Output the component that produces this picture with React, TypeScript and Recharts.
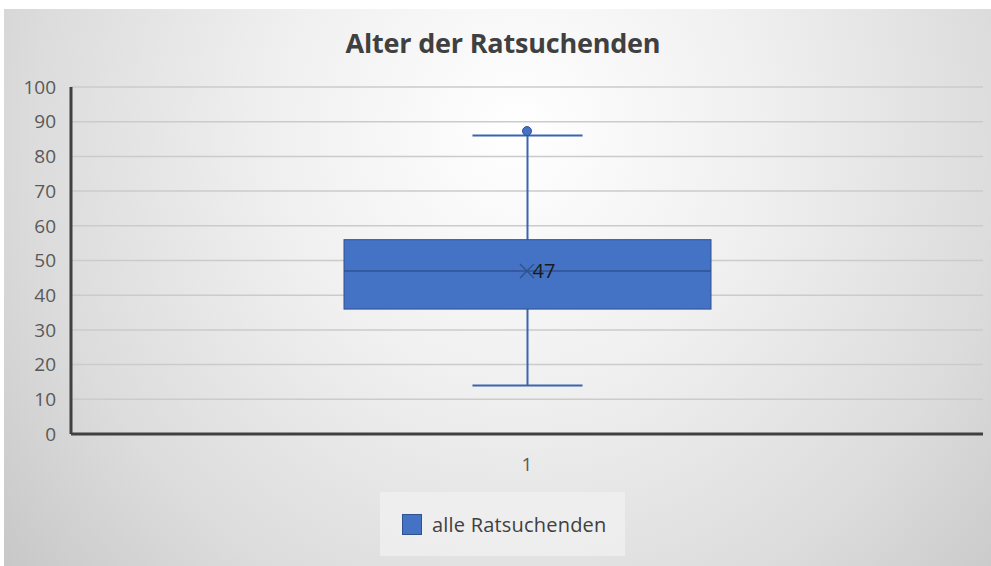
import React from "react";
import { Bar, CartesianGrid, ComposedChart, LabelList, Legend, Scatter, XAxis, YAxis } from "recharts";

const categories = ["1"];
const seriesName = "alle Ratsuchenden";
const whiskerLow = [14];
const quartile1 = [36];
const medians = [47];
const quartile3 = [56];
const whiskerHigh = [86];
const means = [47];
const outliers = [87.3];
const yTicks = [0, 10, 20, 30, 40, 50, 60, 70, 80, 90, 100];

const rows = categories.map((cat, i) => ({
  cat,
  range: [whiskerLow[i], whiskerHigh[i]],
  q1: quartile1[i],
  median: medians[i],
  q3: quartile3[i],
  mean: means[i],
  outlier: outliers[i],
}));

const font = "'Open Sans', 'Segoe UI', sans-serif";
const boxFill = "#4472C4";
const boxEdge = "#2F528F";

function BoxShape(props: any) {
  const { x, y, width, height, payload } = props;
  const [lo, hi] = payload.range;
  const top = Math.min(y, y + height);
  const h = Math.abs(height);
  // map a value onto the pixel span of the whisker range
  const toY = (v: number) => top + (h * (hi - v)) / (hi - lo);
  const cx = x + width / 2;
  const cap = width * 0.15;
  const yq1 = toY(payload.q1);
  const yq3 = toY(payload.q3);
  const ymed = toY(payload.median);
  return (
    <g>
      <line x1={cx} x2={cx} y1={toY(hi)} y2={toY(lo)} stroke="#3A64B0" strokeWidth={2} />
      <line x1={cx - cap} x2={cx + cap} y1={toY(hi)} y2={toY(hi)} stroke="#3A64B0" strokeWidth={2} />
      <line x1={cx - cap} x2={cx + cap} y1={toY(lo)} y2={toY(lo)} stroke="#3A64B0" strokeWidth={2} />
      <rect x={x} y={yq3} width={width} height={yq1 - yq3} fill={boxFill} stroke={boxEdge} strokeWidth={1} />
      <line x1={x} x2={x + width} y1={ymed} y2={ymed} stroke={boxEdge} strokeWidth={1.5} />
    </g>
  );
}

function MeanMark(props: any) {
  const { cx, cy } = props;
  const s = 7;
  return (
    <g stroke={boxEdge} strokeWidth={1.5}>
      <line x1={cx - s} y1={cy - s} x2={cx + s} y2={cy + s} />
      <line x1={cx - s} y1={cy + s} x2={cx + s} y2={cy - s} />
    </g>
  );
}

function OutlierDot(props: any) {
  const { cx, cy } = props;
  return <circle cx={cx} cy={cy} r={4.5} fill={boxFill} stroke={boxEdge} strokeWidth={1} />;
}

function LegendBox() {
  return (
    <div
      style={{
        width: 245,
        height: 64,
        background: "rgba(240,240,240,0.8)",
        display: "flex",
        alignItems: "center",
        paddingLeft: 22,
        boxSizing: "border-box",
        fontFamily: font,
        fontSize: 20,
        letterSpacing: 0.2,
        color: "#404040",
      }}
    >
      <span style={{ width: 20, height: 21, background: boxFill, border: `1px solid ${boxEdge}`, marginRight: 10, boxSizing: "border-box" }} />
      {seriesName}
    </div>
  );
}

export default function App() {
  return (
    <div style={{ position: "fixed", left: 0, top: 0, width: 991, height: 566, background: "#fff" }}>
      <div
        style={{
          position: "absolute",
          left: 4,
          top: 9,
          width: 987,
          height: 557,
          background: "radial-gradient(ellipse 70% 130% at 52% 22%, #ffffff 0%, #f0f0f0 35%, #dcdcdc 70%, #c4c4c4 100%)",
        }}
      />
      <div
        style={{
          position: "absolute",
          left: 0,
          top: 24,
          width: 1006,
          textAlign: "center",
          fontFamily: font,
          fontWeight: 700,
          fontSize: 27,
          letterSpacing: -0.2,
          color: "#404040",
        }}
      >
        Alter der Ratsuchenden
      </div>
      <div style={{ position: "absolute", left: 0, top: 0 }}>
        <ComposedChart width={991} height={566} data={rows} margin={{ top: 87, right: 8, bottom: 38, left: 11 }}>
          <CartesianGrid vertical={false} stroke="#cbcbcb" strokeWidth={1.5} />
          <XAxis
            dataKey="cat"
            axisLine={{ stroke: "#404040", strokeWidth: 3 }}
            tickLine={false}
            tick={{ fill: "#595959", fontSize: 19, fontFamily: font }}
            tickMargin={18}
          />
          <YAxis
            domain={[0, 100]}
            ticks={yTicks}
            width={60}
            axisLine={{ stroke: "#404040", strokeWidth: 3 }}
            tickLine={false}
            tickMargin={9}
            tick={{ fill: "#595959", fontSize: 19, fontFamily: font }}
          />
          <Bar dataKey="range" name={seriesName} barSize={367} fill={boxFill} shape={BoxShape} isAnimationActive={false} />
          <Scatter dataKey="mean" shape={MeanMark} legendType="none" isAnimationActive={false}>
            <LabelList dataKey="mean" position="right" offset={1} fill="#1a1a1a" fontSize={20} fontFamily={font} />
          </Scatter>
          <Scatter dataKey="outlier" shape={OutlierDot} legendType="none" isAnimationActive={false} />
          <Legend content={LegendBox} wrapperStyle={{ left: 380, top: 492, width: 245, height: 64 }} />
        </ComposedChart>
      </div>
    </div>
  );
}
